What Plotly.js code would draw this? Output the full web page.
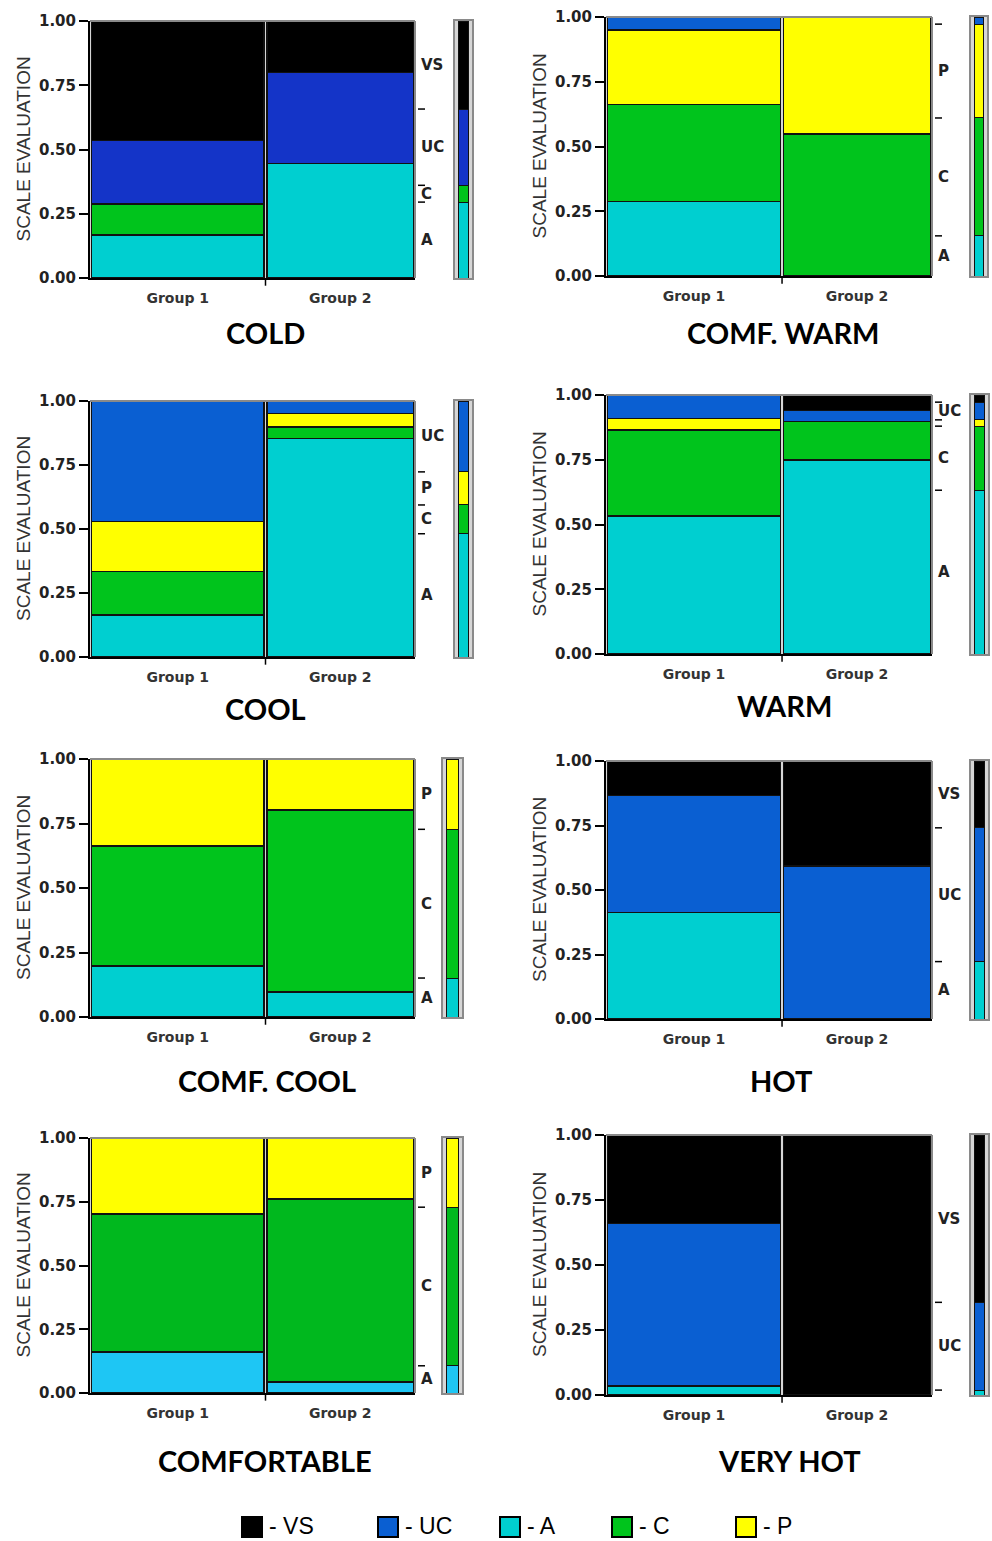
<!DOCTYPE html>
<html><head><meta charset="utf-8">
<script src="https://cdn.plot.ly/plotly-3.0.1.min.js"></script>
<style>html,body{margin:0;padding:0;background:#fff}#chart{width:992px;height:1541px}</style>
</head><body><div id="chart"></div>
<script>
// ---------------- DATA ----------------
const categories = ['A', 'C', 'P', 'UC', 'VS'];          // stacking order, bottom to top
const legendOrder = ['VS', 'UC', 'A', 'C', 'P'];
const groups = ['Group 1', 'Group 2'];
const groupShare = [0.54, 0.46];                           // mosaic column widths
const panelTitles = ['COLD', 'COMF. WARM', 'COOL', 'WARM', 'COMF. COOL', 'HOT', 'COMFORTABLE', 'VERY HOT'];
const yTicks = [0, 0.25, 0.5, 0.75, 1];
const axisTitle = 'SCALE EVALUATION';

// proportions per group, order A, C, P, UC, VS
const cold_g1 = [0.167, 0.121, 0, 0.248, 0.464];
const cold_g2 = [0.446, 0, 0, 0.354, 0.200];
const comfWarm_g1 = [0.287, 0.376, 0.286, 0.051, 0];
const comfWarm_g2 = [0, 0.548, 0.452, 0, 0];
const cool_g1 = [0.165, 0.169, 0.195, 0.471, 0];
const cool_g2 = [0.853, 0.046, 0.052, 0.049, 0];
const warm_g1 = [0.533, 0.332, 0.045, 0.090, 0];
const warm_g2 = [0.749, 0.148, 0, 0.043, 0.060];
const comfCool_g1 = [0.197, 0.466, 0.337, 0, 0];
const comfCool_g2 = [0.097, 0.706, 0.197, 0, 0];
const hot_g1 = [0.412, 0, 0, 0.455, 0.133];
const hot_g2 = [0, 0, 0, 0.593, 0.407];
const comfortable_g1 = [0.161, 0.541, 0.298, 0, 0];
const comfortable_g2 = [0.043, 0.717, 0.240, 0, 0];
const veryHot_g1 = [0.035, 0, 0, 0.625, 0.340];
const veryHot_g2 = [0, 0, 0, 0, 1.0];

const panelValues = [
  [cold_g1, cold_g2], [comfWarm_g1, comfWarm_g2],
  [cool_g1, cool_g2], [warm_g1, warm_g2],
  [comfCool_g1, comfCool_g2], [hot_g1, hot_g2],
  [comfortable_g1, comfortable_g2], [veryHot_g1, veryHot_g2]
];

// ---------------- STYLE / LAYOUT ----------------
const W = 992, H = 1541;
const colors = {A: '#00cfd0', C: '#00c41c', P: '#ffff00', UC: '#0a5fd2', VS: '#000000'};
const colorOverrides = {0: {UC: '#1434c8'}, 6: {A: '#1ec6f4', C: '#00b81e'}};
// [left, right, top, bottom, marginalLeft, marginalRight] in px
const boxes = [
  [90, 415, 21, 278, 455, 472],
  [606, 932, 17, 276, 971, 987],
  [90, 415, 401, 657, 455, 472],
  [606, 932, 395, 654, 971, 988],
  [90, 415, 759, 1017, 443, 462],
  [606, 932, 761, 1019, 971, 988],
  [90, 415, 1138, 1393, 443, 462],
  [606, 932, 1135, 1395, 971, 988]
];
const titlePos = [[265, 332], [783, 332], [265, 708], [784, 705], [267, 1080], [781, 1080], [265, 1460], [789, 1460]];
const axisTitleX = [23, 539];
const legendSquares = [242, 378, 500, 612, 736];
const legendY = 1527;

const px = v => v / W;
const py = v => 1 - v / H;

const data = [];
const layout = {
  width: W, height: H,
  margin: {l: 0, r: 0, t: 0, b: 0},
  paper_bgcolor: '#ffffff',
  plot_bgcolor: '#d6d6d6',
  barmode: 'stack',
  bargap: 0,
  showlegend: false,
  shapes: [],
  annotations: []
};

const s1 = groupShare[0] / (groupShare[0] + groupShare[1]);
const s2 = 1 - s1;
const centers = [s1 / 2, s1 + s2 / 2];
const gap = 0.008;
const widths = [s1 - gap, s2 - gap];

panelValues.forEach((pv, p) => {
  const b = boxes[p];
  const mi = 2 * p + 1, gi = 2 * p + 2;
  const xm = 'x' + (mi === 1 ? '' : mi), ym = 'y' + (mi === 1 ? '' : mi);
  const xg = 'x' + gi, yg = 'y' + gi;
  const axm = mi === 1 ? '' : mi;
  const col = Object.assign({}, colors, colorOverrides[p] || {});

  // marginal proportions from the group data
  const marg = categories.map((c, k) => s1 * pv[0][k] + s2 * pv[1][k]);
  const tot = marg.reduce((a, v) => a + v, 0);
  const margN = marg.map(v => v / tot);

  categories.forEach((c, k) => {
    data.push({
      type: 'bar', x: centers, y: [pv[0][k] || null, pv[1][k] || null], width: widths,
      xaxis: xm, yaxis: ym, name: c,
      marker: {color: col[c], line: {color: '#111', width: 1.5}},
      hoverinfo: 'name+y'
    });
    data.push({
      type: 'bar', x: [0], y: [margN[k] || null], width: [0.62],
      xaxis: xg, yaxis: yg, name: c,
      marker: {color: col[c], line: {color: '#111', width: 1}},
      hoverinfo: 'name+y'
    });
  });

  const xd = [px(b[0]), px(b[1])];
  const yd = [py(b[3]), py(b[2])];
  layout['xaxis' + axm] = {
    domain: xd, range: [0, 1], anchor: ym,
    showline: true, linecolor: '#000', linewidth: 2,
    tickvals: centers, ticktext: groups, ticks: '',
    ticklabelstandoff: 6,
    tickfont: {family: 'DejaVu Sans', size: 14, color: '#333', weight: 'bold'},
    showgrid: false, zeroline: false, fixedrange: true
  };
  layout['yaxis' + axm] = {
    domain: yd, range: [0, 1], anchor: xm,
    showline: true, linecolor: '#000', linewidth: 2,
    tickvals: yTicks, tickformat: '.2f', ticks: 'outside', ticklen: 9, tickwidth: 2, tickcolor: '#000',
    tickfont: {family: 'DejaVu Sans', size: 15, color: '#222', weight: 'bold'},
    showgrid: false, zeroline: false, fixedrange: true
  };
  layout['xaxis' + gi] = {
    domain: [px(b[4]), px(b[5])], range: [-0.5, 0.5], anchor: yg,
    showline: true, mirror: true, linecolor: '#8a8a8a', linewidth: 2,
    showticklabels: false, ticks: '', showgrid: false, zeroline: false, fixedrange: true
  };
  layout['yaxis' + gi] = {
    domain: yd, range: [0, 1], anchor: xg,
    showline: true, mirror: true, linecolor: '#8a8a8a', linewidth: 2,
    showticklabels: false, ticks: '', showgrid: false, zeroline: false, fixedrange: true
  };

  const xdom = xm + ' domain', ydom = ym + ' domain';
  // grey frame on top and right
  layout.shapes.push({type: 'line', xref: xdom, yref: ydom, x0: 0, x1: 1, y0: 1, y1: 1, line: {color: '#8a8a8a', width: 2}});
  layout.shapes.push({type: 'line', xref: xdom, yref: ydom, x0: 1, x1: 1, y0: 0, y1: 1, line: {color: '#8a8a8a', width: 2}});
  // divider tick on x axis
  layout.shapes.push({type: 'line', xref: xm, yref: ydom, x0: s1, x1: s1, y0: 0, y1: -0.03, line: {color: '#000', width: 1.5}});

  // right side category ticks and labels from marginal distribution
  const plotW = b[1] - b[0];
  let cum = 0;
  const nonzero = [];
  categories.forEach((c, k) => { if (margN[k] > 0) nonzero.push(k); });
  nonzero.forEach((k, i) => {
    const lo = cum, hi = cum + margN[k];
    cum = hi;
    if (i < nonzero.length - 1) {
      layout.shapes.push({type: 'line', xref: xdom, yref: ym, x0: 1 + 3 / plotW, x1: 1 + 10 / plotW, y0: hi, y1: hi, line: {color: '#000', width: 1.5}});
    }
    if (margN[k] >= 0.05) {
      layout.annotations.push({
        xref: xdom, yref: ym, x: 1 + 4 / plotW, y: (lo + hi) / 2, xanchor: 'left', yanchor: 'middle',
        text: categories[k], showarrow: false,
        font: {family: 'DejaVu Sans', size: 15, color: '#222', weight: 'bold'}
      });
    }
  });

  // y axis title
  layout.annotations.push({
    xref: 'paper', yref: 'paper', x: px(axisTitleX[p % 2]), y: py((b[2] + b[3]) / 2),
    text: axisTitle, textangle: -90, showarrow: false, xanchor: 'center', yanchor: 'middle',
    font: {family: 'Liberation Sans', size: 19, color: '#333'}
  });
  // panel title
  layout.annotations.push({
    xref: 'paper', yref: 'paper', x: px(titlePos[p][0]), y: py(titlePos[p][1]),
    text: panelTitles[p], showarrow: false, xanchor: 'center', yanchor: 'middle',
    font: {family: 'Lato', size: 29, color: '#000', weight: 'bold'}
  });
});

// manual legend
legendOrder.forEach((c, i) => {
  const x0 = legendSquares[i];
  layout.shapes.push({type: 'rect', xref: 'paper', yref: 'paper',
    x0: px(x0), x1: px(x0 + 20), y0: py(legendY + 10), y1: py(legendY - 10),
    fillcolor: colors[c], line: {color: '#000', width: 2}});
  layout.annotations.push({xref: 'paper', yref: 'paper', x: px(x0 + 26), y: py(legendY - 1),
    xanchor: 'left', yanchor: 'middle', text: '- ' + c, showarrow: false, borderpad: 0,
    font: {family: 'Liberation Sans', size: 23, color: '#000'}});
});

Plotly.newPlot('chart', data, layout, {staticPlot: true});
</script>
</body></html>
